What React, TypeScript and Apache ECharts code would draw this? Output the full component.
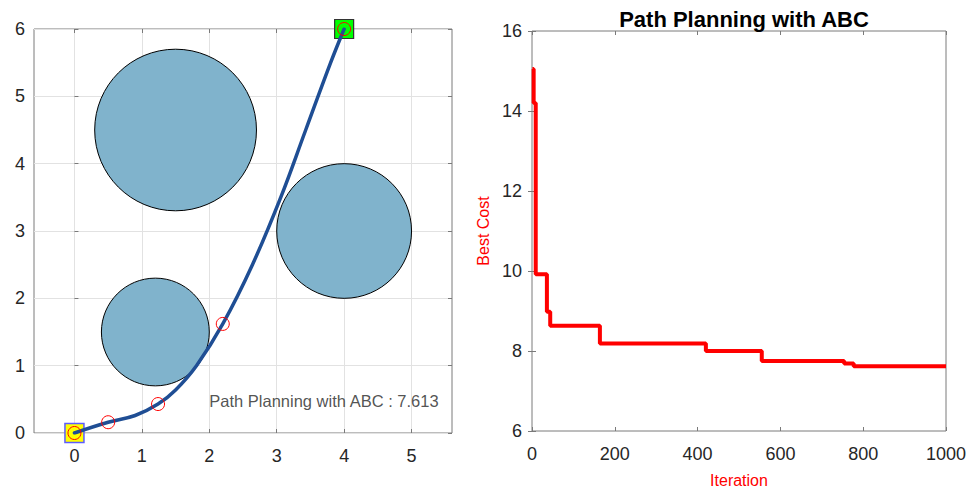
import React, { useEffect, useRef } from "react";
import * as echarts from "echarts";

// ---- Left plot data ----
const obstacleX = [1.5, 4, 1.2];
const obstacleY = [4.5, 3, 1.5];
const obstacleR = [1.2, 1, 0.8];

const pathX = [0, 0.5, 0.9, 1.24, 1.5, 1.81, 2.2, 2.64, 3.06, 3.43, 3.8, 4];
const pathY = [0, 0.16, 0.26, 0.43, 0.64, 1.0, 1.62, 2.5, 3.5, 4.5, 5.5, 6];

const ctrlX = [0, 0.5, 1.24, 2.2, 4];
const ctrlY = [0, 0.16, 0.43, 1.62, 6];

const startPt = [0, 0];
const goalPt = [4, 6];

const costLabel = "Path Planning with ABC : 7.613";
const costLabelPos = [2.0, 0.48];

// ---- Right plot data ----
const iterations = [1, 4, 9, 36, 44, 164, 420, 555, 754, 777, 1000];
const bestCost = [15.05, 14.2, 9.92, 8.98, 8.63, 8.19, 8.0, 7.75, 7.69, 7.62, 7.62];

const AXIS_COLOR = "#7a7a7a";
const LABEL_COLOR = "#262626";
const GRID_COLOR = "#e2e2e2";
const FONT = "'Liberation Sans', Arial, Helvetica, sans-serif";

export default function App() {
  const ref = useRef<HTMLDivElement>(null);

  useEffect(() => {
    if (!ref.current) return;
    const chart = echarts.init(ref.current, null, { renderer: "svg" });

    const tickInside = { show: true, inside: true, length: 4, lineStyle: { color: AXIS_COLOR } };
    const label18 = { color: LABEL_COLOR, fontSize: 18, fontFamily: FONT, formatter: (v: number) => String(v) };

    const option: any = {
      animation: false,
      textStyle: { fontFamily: FONT },
      title: {
        text: "Path Planning with ABC",
        left: 739,
        top: 3,
        textAlign: "center",
        textStyle: { fontSize: 22, fontWeight: "bold", color: "#000", fontFamily: FONT },
      },
      grid: [
        { left: 34, top: 29, width: 418, height: 404, show: true, borderColor: AXIS_COLOR, borderWidth: 1, backgroundColor: "transparent" },
        { left: 34 + (0.6 * 418) / 6.2, top: 29, width: (5 * 418) / 6.2, height: 404, show: false },
        { left: 532, top: 31, width: 414, height: 400, show: true, borderColor: AXIS_COLOR, borderWidth: 1, backgroundColor: "transparent" },
      ],
      xAxis: [
        { gridIndex: 0, type: "value", min: -0.6, max: 5.6, show: false },
        {
          gridIndex: 1, type: "value", min: 0, max: 5, interval: 1, position: "bottom",
          axisLine: { show: false }, axisTick: tickInside,
          axisLabel: { ...label18, margin: 14 },
          splitLine: { show: true, lineStyle: { color: GRID_COLOR, width: 1 } },
        },
        {
          gridIndex: 1, type: "value", min: 0, max: 5, interval: 1, position: "top",
          axisLine: { show: false }, axisTick: tickInside, axisLabel: { show: false }, splitLine: { show: false },
        },
        {
          gridIndex: 2, type: "value", min: 0, max: 1000, interval: 200, position: "bottom",
          axisLine: { show: false }, axisTick: tickInside,
          axisLabel: { ...label18, margin: 14 },
          splitLine: { show: false },
          name: "Iteration", nameLocation: "middle", nameGap: 41,
          nameTextStyle: { color: "#ff0000", fontSize: 16, fontFamily: FONT },
        },
        {
          gridIndex: 2, type: "value", min: 0, max: 1000, interval: 200, position: "top",
          axisLine: { show: false }, axisTick: tickInside, axisLabel: { show: false }, splitLine: { show: false },
        },
      ],
      yAxis: [
        {
          gridIndex: 0, type: "value", min: 0, max: 6, interval: 1, position: "left",
          axisLine: { show: false }, axisTick: tickInside,
          axisLabel: { ...label18, margin: 9 },
          splitLine: { show: true, lineStyle: { color: GRID_COLOR, width: 1 } },
        },
        {
          gridIndex: 0, type: "value", min: 0, max: 6, interval: 1, position: "right",
          axisLine: { show: false }, axisTick: tickInside, axisLabel: { show: false }, splitLine: { show: false },
        },
        { gridIndex: 1, type: "value", min: 0, max: 6, show: false },
        {
          gridIndex: 2, type: "value", min: 6, max: 16, interval: 2, position: "left",
          axisLine: { show: false }, axisTick: tickInside,
          axisLabel: { ...label18, margin: 10 },
          splitLine: { show: false },
          name: "Best Cost", nameLocation: "middle", nameGap: 41, nameRotate: 90,
          nameTextStyle: { color: "#ff0000", fontSize: 16, fontFamily: FONT },
        },
        {
          gridIndex: 2, type: "value", min: 6, max: 16, interval: 2, position: "right",
          axisLine: { show: false }, axisTick: tickInside, axisLabel: { show: false }, splitLine: { show: false },
        },
      ],
      series: [
        {
          type: "custom",
          xAxisIndex: 0,
          yAxisIndex: 0,
          z: 2,
          data: obstacleX.map((x, i) => [x, obstacleY[i], obstacleR[i]]),
          encode: { x: 0, y: 1 },
          renderItem: (params: any, api: any) => {
            const c = api.coord([api.value(0), api.value(1)]);
            const s = api.size([api.value(2), api.value(2)]);
            return {
              type: "ellipse",
              shape: { cx: c[0], cy: c[1], rx: s[0], ry: s[1] },
              style: { fill: "#80b3cc", stroke: "#000", lineWidth: 1 },
            };
          },
        },
        {
          type: "scatter",
          xAxisIndex: 0,
          yAxisIndex: 0,
          z: 3,
          symbol: "rect",
          symbolSize: 19,
          data: [startPt],
          itemStyle: { color: "#ffff00", borderColor: "#5c5cff", borderWidth: 1.5, opacity: 1 },
        },
        {
          type: "scatter",
          xAxisIndex: 0,
          yAxisIndex: 0,
          z: 3,
          symbol: "rect",
          symbolSize: 19,
          data: [goalPt],
          itemStyle: { color: "#00ff00", borderColor: "#333333", borderWidth: 1.2, opacity: 1 },
        },
        {
          type: "line",
          xAxisIndex: 0,
          yAxisIndex: 0,
          z: 4,
          smooth: 0.4,
          showSymbol: false,
          symbol: "none",
          data: pathX.map((x, i) => [x, pathY[i]]),
          lineStyle: { color: "#1f4e94", width: 3.5, cap: "round" },
        },
        {
          type: "scatter",
          xAxisIndex: 0,
          yAxisIndex: 0,
          z: 5,
          symbol: "circle",
          symbolSize: 13,
          data: ctrlX.map((x, i) => [x, ctrlY[i]]),
          itemStyle: { color: "rgba(0,0,0,0)", borderColor: "#ff0000", borderWidth: 1, opacity: 1 },
        },
        {
          type: "scatter",
          xAxisIndex: 0,
          yAxisIndex: 0,
          z: 6,
          symbolSize: 0,
          data: [costLabelPos],
          label: {
            show: true,
            position: "right",
            distance: 0,
            formatter: () => costLabel,
            color: LABEL_COLOR,
            fontSize: 16.5,
            fontFamily: FONT,
          },
        },
        {
          type: "line",
          xAxisIndex: 3,
          yAxisIndex: 3,
          step: "end",
          showSymbol: false,
          symbol: "none",
          data: iterations.map((x, i) => [x, bestCost[i]]),
          lineStyle: { color: "#ff0000", width: 4 },
        },
      ],
    };

    chart.setOption(option);
    return () => chart.dispose();
  }, []);

  return (
    <div
      ref={ref}
      style={{ position: "absolute", left: 0, top: 0, width: 978, height: 493, background: "#fff" }}
    />
  );
}
